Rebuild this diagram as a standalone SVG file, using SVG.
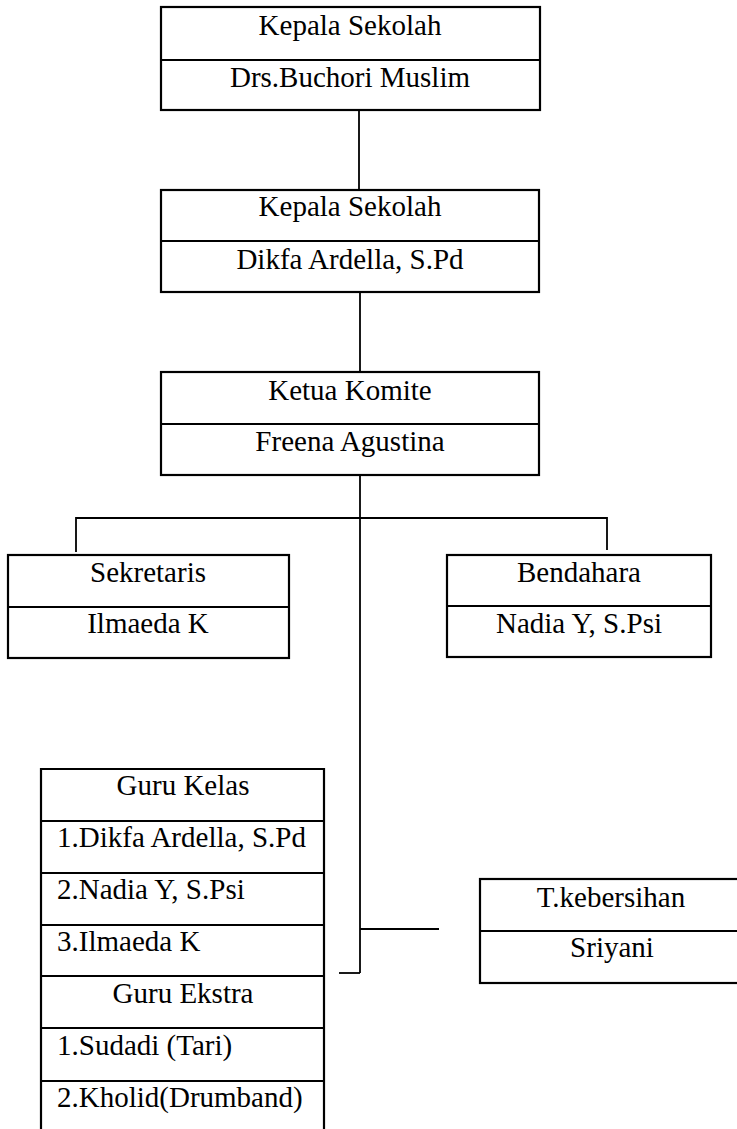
<svg xmlns="http://www.w3.org/2000/svg" width="737" height="1129" viewBox="0 0 737 1129">
<style>
.box{fill:#fff;stroke:#000;stroke-width:2.2}
.div{stroke:#000;stroke-width:2}
.con{stroke:#000;stroke-width:1.8;fill:none}
text{font-family:"Liberation Serif","Times New Roman",serif;font-size:29px;fill:#000}
.c{text-anchor:middle}
</style>
<rect width="737" height="1129" fill="#fff"/>
<g id="connectors">
<line class="con" x1="359" y1="110" x2="359" y2="190"/>
<line class="con" x1="360" y1="292" x2="360" y2="372"/>
<line class="con" x1="360" y1="475" x2="360" y2="973"/>
<polyline class="con" points="76,552 76,518 607,518 607,550"/>
<line class="con" x1="339" y1="973" x2="360" y2="973"/>
<line class="con" x1="360" y1="929" x2="439" y2="929"/>
</g>
<g id="kepala1">
<rect class="box" x="161" y="7" width="379" height="103"/>
<line class="div" x1="161" y1="60" x2="540" y2="60"/>
<text class="c" x="350" y="35">Kepala Sekolah</text>
<text class="c" x="350" y="87">Drs.Buchori Muslim</text>
</g>
<g id="kepala2">
<rect class="box" x="161" y="190" width="378" height="102"/>
<line class="div" x1="161" y1="241" x2="539" y2="241"/>
<text class="c" x="350" y="216">Kepala Sekolah</text>
<text class="c" x="350" y="269">Dikfa Ardella, S.Pd</text>
</g>
<g id="komite">
<rect class="box" x="161" y="372" width="378" height="103"/>
<line class="div" x1="161" y1="424" x2="539" y2="424"/>
<text class="c" x="350" y="400">Ketua Komite</text>
<text class="c" x="350" y="451">Freena Agustina</text>
</g>
<g id="sekretaris">
<rect class="box" x="8" y="555" width="281" height="103"/>
<line class="div" x1="8" y1="607" x2="289" y2="607"/>
<text class="c" x="148" y="582">Sekretaris</text>
<text class="c" x="148" y="633">Ilmaeda K</text>
</g>
<g id="bendahara">
<rect class="box" x="447" y="555" width="264" height="102"/>
<line class="div" x1="447" y1="606" x2="711" y2="606"/>
<text class="c" x="579" y="582">Bendahara</text>
<text class="c" x="579" y="633">Nadia Y, S.Psi</text>
</g>
<g id="kebersihan">
<rect class="box" x="480" y="879" width="270" height="104"/>
<line class="div" x1="480" y1="931" x2="737" y2="931"/>
<text class="c" x="611" y="907">T.kebersihan</text>
<text class="c" x="612" y="957">Sriyani</text>
</g>
<g id="guru">
<polyline class="box" points="41,1135 41,769 324,769 324,1135"/>
<line class="div" x1="41" y1="821" x2="324" y2="821"/>
<line class="div" x1="41" y1="873" x2="324" y2="873"/>
<line class="div" x1="41" y1="925" x2="324" y2="925"/>
<line class="div" x1="41" y1="976" x2="324" y2="976"/>
<line class="div" x1="41" y1="1028" x2="324" y2="1028"/>
<line class="div" x1="41" y1="1081" x2="324" y2="1081"/>
<text class="c" x="183" y="795">Guru Kelas</text>
<text x="57" y="847">1.Dikfa Ardella, S.Pd</text>
<text x="57" y="899">2.Nadia Y, S.Psi</text>
<text x="57" y="951">3.Ilmaeda K</text>
<text class="c" x="183" y="1003">Guru Ekstra</text>
<text x="57" y="1055">1.Sudadi (Tari)</text>
<text x="57" y="1107">2.Kholid(Drumband)</text>
</g>
</svg>
